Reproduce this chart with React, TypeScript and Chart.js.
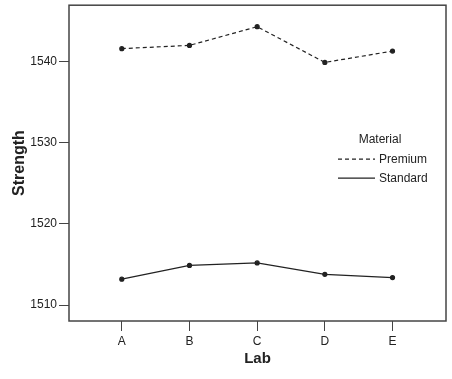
import React, { useEffect, useRef } from "react";
import { Chart, registerables } from "chart.js";

Chart.register(...registerables);

const labs = ["A", "B", "C", "D", "E"];
const premium = [1541.6, 1542.0, 1544.3, 1539.9, 1541.3];
const standard = [1513.2, 1514.9, 1515.2, 1513.8, 1513.4];
const yTicks = [1510, 1520, 1530, 1540];
const seriesNames = ["Premium", "Standard"];
const legendTitle = "Material";

const FONT = "'Liberation Sans', Arial, sans-serif";
const INK = "#222";

const framePlugin = {
  id: "frameAndLegend",
  afterDraw(chart: any) {
    const { ctx, chartArea } = chart;
    const { left, right, top, bottom } = chartArea;
    ctx.save();
    ctx.strokeStyle = "#444";
    ctx.lineWidth = 1.5;
    ctx.strokeRect(left, top, right - left, bottom - top);

    // legend
    const lx = right - 108;
    const ty = top + 134;
    ctx.fillStyle = INK;
    ctx.font = `12px ${FONT}`;
    ctx.textBaseline = "middle";
    ctx.textAlign = "center";
    ctx.fillText(legendTitle, lx + 42, ty);
    ctx.textAlign = "left";
    const rows = [
      { name: seriesNames[0], dash: [4, 3] },
      { name: seriesNames[1], dash: [] as number[] },
    ];
    rows.forEach((r, i) => {
      const y = ty + 20 + i * 19;
      ctx.beginPath();
      ctx.setLineDash(r.dash);
      ctx.strokeStyle = INK;
      ctx.lineWidth = 1.2;
      ctx.moveTo(lx, y);
      ctx.lineTo(lx + 37, y);
      ctx.stroke();
      ctx.setLineDash([]);
      ctx.fillText(r.name, lx + 41, y);
    });
    ctx.restore();
  },
};

export default function App() {
  const ref = useRef<HTMLCanvasElement | null>(null);
  useEffect(() => {
    if (!ref.current) return;
    const chart = new Chart(ref.current, {
      type: "line",
      data: {
        datasets: [
          {
            label: seriesNames[0],
            data: premium.map((v, i) => ({ x: i, y: v })),
            borderColor: INK,
            backgroundColor: INK,
            borderWidth: 1.2,
            borderDash: [4, 3],
            pointRadius: 2,
            pointStyle: "circle",
            tension: 0,
          },
          {
            label: seriesNames[1],
            data: standard.map((v, i) => ({ x: i, y: v })),
            borderColor: INK,
            backgroundColor: INK,
            borderWidth: 1.2,
            pointRadius: 2,
            pointStyle: "circle",
            tension: 0,
          },
        ],
      },
      options: {
        animation: false,
        responsive: true,
        maintainAspectRatio: false,
        layout: { padding: { left: 0, top: 1, right: 6, bottom: 0 } },
        plugins: { legend: { display: false }, tooltip: { enabled: false } },
        scales: {
          x: {
            type: "linear",
            min: -0.78,
            max: 4.79,
            afterBuildTicks: (s: any) => {
              s.ticks = labs.map((_, i) => ({ value: i }));
            },
            afterFit: (s: any) => {
              s.height = 58;
              s.paddingLeft = 0;
              s.paddingRight = 0;
            },
            grid: {
              drawOnChartArea: false,
              drawTicks: true,
              tickLength: 10,
              color: "#444",
            },
            border: { display: false },
            ticks: {
              autoSkip: false,
              maxRotation: 0,
              padding: 3,
              color: INK,
              font: { family: FONT, size: 12 },
              callback: (v: any) => labs[v as number] ?? "",
            },
            title: {
              display: true,
              text: "Lab",
              color: INK,
              font: { family: FONT, size: 15, weight: "bold" },
              padding: { top: 0, bottom: 11 },
            },
          },
          y: {
            min: 1508.05,
            max: 1546.95,
            afterBuildTicks: (s: any) => {
              s.ticks = yTicks.map((v) => ({ value: v }));
            },
            afterFit: (s: any) => {
              s.width = 69;
              s.paddingTop = 0;
              s.paddingBottom = 0;
            },
            grid: {
              drawOnChartArea: false,
              drawTicks: true,
              tickLength: 10,
              color: "#444",
            },
            border: { display: false },
            ticks: {
              padding: 2,
              color: INK,
              font: { family: FONT, size: 12 },
              callback: (v: any) => String(v),
            },
            title: {
              display: true,
              text: "Strength",
              color: INK,
              font: { family: FONT, size: 16, weight: "bold" },
              padding: { top: 10, bottom: 0 },
            },
          },
        },
      },
      plugins: [framePlugin],
    } as any);
    return () => chart.destroy();
  }, []);
  return (
    <div style={{ position: "absolute", left: 0, top: 0, width: 452, height: 379, background: "#fff" }}>
      <canvas ref={ref} />
    </div>
  );
}
